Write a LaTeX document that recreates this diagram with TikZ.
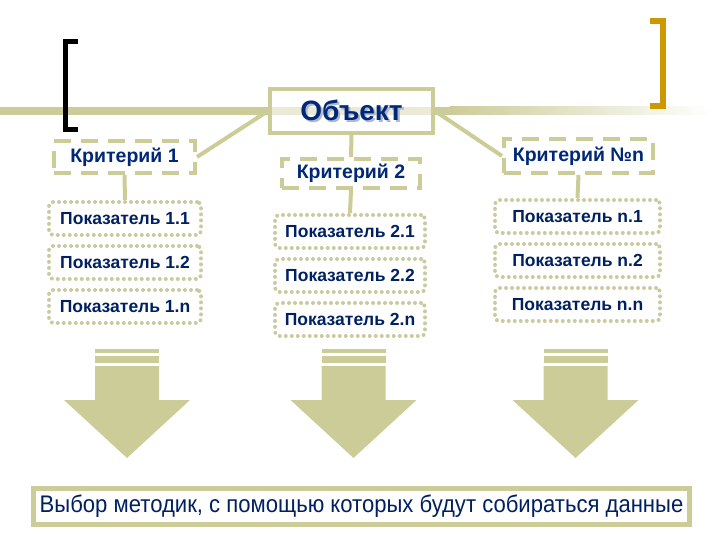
\documentclass[tikz,border=0pt]{standalone}
\usepackage{fontspec}
\setmainfont{Liberation Sans}
\usetikzlibrary{positioning}

\definecolor{khaki}{RGB}{204,204,153}
\definecolor{dotkhaki}{RGB}{202,202,160}
\definecolor{navy}{RGB}{0,40,120}
\definecolor{deepnavy}{RGB}{0,32,96}
\definecolor{bracketgold}{RGB}{204,153,0}
\definecolor{shadowgray}{RGB}{175,185,205}

\newcommand{\shadowed}[1]{\makebox[0pt][l]{\hspace{2pt}\raisebox{-2pt}{\textcolor{shadowgray}{#1}}}#1}

\tikzset{
  link/.style={draw=khaki, line width=4pt},
  objbox/.style={draw=khaki, line width=4pt, fill=white, fill opacity=0.6, text opacity=1,
    minimum width=163pt, minimum height=44pt, inner sep=0pt,
    font=\fontsize{28}{30}\selectfont\bfseries, text=navy},
  critbox/.style={draw=khaki, line width=4pt, dash pattern=on 17pt off 10pt,
    fill=white, minimum height=32pt, inner sep=0pt,
    font=\fontsize{19.5}{21}\selectfont\bfseries, text=navy},
  indbox/.style={draw=dotkhaki, line width=4pt, line cap=round,
    dash pattern=on 0pt off 6pt, rounded corners=4pt,
    minimum height=33pt, inner sep=0pt,
    font=\fontsize{17.5}{19}\selectfont\bfseries, text=deepnavy},
  indone/.style={indbox, minimum width=152pt},
  indtwo/.style={indbox, minimum width=150pt},
  indn/.style={indbox, minimum width=165pt},
  resbox/.style={draw=khaki, line width=5pt, fill=white,
    minimum width=656pt, minimum height=36pt, inner sep=0pt,
    font=\fontsize{24}{26}\selectfont, text=deepnavy}
}

\begin{document}
\begin{tikzpicture}[x=1pt, y=-1pt]
  \useasboundingbox (0,0) rectangle (720,540);

  % band and brackets
  \fill[khaki] (0,107) rectangle (450,115);
  \shade[left color=khaki, right color=white] (450,107) rectangle (712,115);
  \draw[black, line width=5pt] (78,42) -- (65.5,42) -- (65.5,129.5) -- (78,129.5);
  \draw[bracketgold, line width=6pt] (650,21) -- (663,21) -- (663,106) -- (650,106);

  % object
  \node[objbox] (obj) at (351.5,111) {\shadowed{Объект}};

  % criteria
  \node[critbox, minimum width=141pt] (crit1) at (124.5,157) {Критерий 1};
  \node[critbox, minimum width=138pt, minimum height=29pt] (crit2) at (351,173.5) {Критерий 2};
  \node[critbox, minimum width=149pt, minimum height=34pt] (critn) at (578.5,156) {Критерий №n};

  % indicators
  \node[indone] (ind11) at (125,218.5) {Показатель 1.1};
  \node[indone] (ind12) [below=7pt of ind11] {Показатель 1.2};
  \node[indone] (ind1n) [below=7pt of ind12] {Показатель 1.n};
  \node[indtwo] (ind21) at (350,231.5) {Показатель 2.1};
  \node[indtwo] (ind22) [below=7pt of ind21] {Показатель 2.2};
  \node[indtwo] (ind2n) [below=7pt of ind22] {Показатель 2.n};
  \node[indn] (indn1) at (577.5,216.5) {Показатель n.1};
  \node[indn] (indn2) [below=7pt of indn1] {Показатель n.2};
  \node[indn] (indnn) [below=7pt of indn2] {Показатель n.n};

  \path[link]
    (obj.west)    edge (crit1.east)
    (obj.east)    edge (critn.west)
    (obj.south)   edge (crit2.north)
    (crit1.south) edge (ind11.north)
    (crit2.south) edge (ind21.north)
    (critn.south) edge (indn1.north);

  % arrows down to the result
  \foreach \ax in {127,353.5,575.5}{
    \fill[khaki] (\ax-32,349) rectangle (\ax+32,353);
    \fill[khaki] (\ax-32,356) rectangle (\ax+32,363);
    \fill[khaki] (\ax-32,366) -- (\ax+32,366) -- (\ax+32,400) -- (\ax+63,400)
      -- (\ax,458) -- (\ax-63,400) -- (\ax-32,400) -- cycle;
  }

  \node[resbox] (res) at (361.5,506.5)
    {\scalebox{0.92}[1]{Выбор методик, с помощью которых будут собираться данные}};
\end{tikzpicture}
\end{document}
